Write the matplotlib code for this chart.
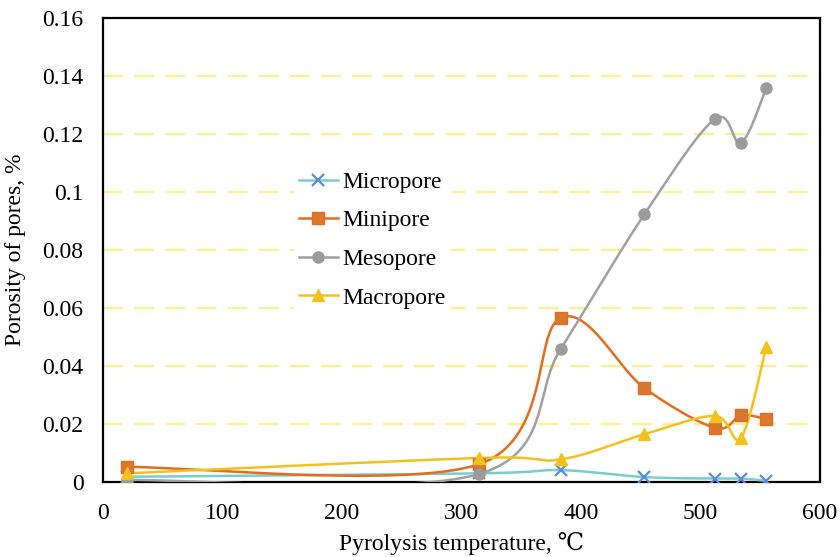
import numpy as np
import matplotlib
matplotlib.use("Agg")
import matplotlib.pyplot as plt
from matplotlib.lines import Line2D

plt.rcParams['font.family'] = ['Liberation Serif', 'DejaVu Serif']

# pyrolysis temperature (deg C) and porosity of each pore class
temps = [20, 315, 383, 453, 512, 534, 555]
micropore = [0.0018, 0.0030, 0.0041, 0.0017, 0.0012, 0.0012, 0.0004]
minipore = [0.0052, 0.0062, 0.0566, 0.0324, 0.0187, 0.0230, 0.0217]
mesopore = [0.0007, 0.0028, 0.0459, 0.0923, 0.1252, 0.1170, 0.1358]
macropore = [0.0030, 0.0083, 0.0078, 0.0165, 0.0228, 0.0153, 0.0465]

xticks = [0, 100, 200, 300, 400, 500, 600]
yticks = [0, 0.02, 0.04, 0.06, 0.08, 0.1, 0.12, 0.14, 0.16]


def smooth(x, y, n=40):
    # spreadsheet-style smoothed line: Catmull-Rom bezier through each point
    p = np.column_stack([x, y]).astype(float)
    # scale so the curve shape does not depend on axis units
    sx, sy = 600.0, 0.16
    p = p / [sx, sy]
    ext = np.vstack([p[0], p, p[-1]])
    out = []
    t = np.linspace(0, 1, n)[:, None]
    for i in range(len(p) - 1):
        p0, p1, p2, p3 = ext[i], ext[i + 1], ext[i + 2], ext[i + 3]
        c1 = p1 + (p2 - p0) / 6
        c2 = p2 - (p3 - p1) / 6
        seg = ((1 - t) ** 3) * p1 + 3 * ((1 - t) ** 2) * t * c1 + 3 * (1 - t) * t ** 2 * c2 + t ** 3 * p2
        out.append(seg if i == 0 else seg[1:])
    out = np.vstack(out) * [sx, sy]
    return out[:, 0], out[:, 1]


series = [
    ("Micropore", micropore, "#78CDD0", "x", "#5B8BD9", "#5B8BD9", 9),
    ("Minipore", minipore, "#E46C1E", "s", "#D9782F", "#E46C1E", 8),
    ("Mesopore", mesopore, "#A0A0A0", "o", "#9B9B9B", "#9B9B9B", 8),
    ("Macropore", macropore, "#F2C21C", "^", "#F2C21C", "#F2C21C", 9),
]

fig = plt.figure(figsize=(8.4, 5.57), dpi=100)
ax = fig.add_axes([0.1226, 0.1346, 0.8536, 0.8331])

handles = []
for name, vals, lc, mk, mfc, mec, ms in series:
    sx_, sy_ = smooth(temps, vals)
    ax.plot(sx_, sy_, color=lc, lw=1.8, zorder=3)
    ax.plot(temps, vals, ls='none', marker=mk, ms=ms, mfc=mfc, mec=mec,
            mew=1.6 if mk == 'x' else 1.0, zorder=4)
    handles.append(Line2D([], [], color=lc, lw=1.8, marker=mk, ms=ms,
                          mfc=mfc, mec=mec, mew=1.6 if mk == 'x' else 1.0, label=name))

for yv in yticks[1:-1]:
    ax.axhline(yv, color='#FFF08A', lw=1.6, dashes=(9, 5), zorder=1)

ax.set_xlim(0, 600)
ax.set_ylim(0, 0.16)
ax.set_xticks(xticks)
ax.set_yticks(yticks)
ax.set_yticklabels(['0', '0.02', '0.04', '0.06', '0.08', '0.1', '0.12', '0.14', '0.16'])
ax.tick_params(length=0, labelsize=17)
ax.tick_params(axis='y', pad=14)
ax.tick_params(axis='x', pad=15)
for s in ax.spines.values():
    s.set_linewidth(1.6)
    s.set_color('black')

ax.set_xlabel('Pyrolysis temperature, ℃', fontsize=17, labelpad=6)
ax.set_ylabel('Porosity of pores, %', fontsize=17, labelpad=12)

leg = ax.legend(handles=handles, loc='upper left', bbox_to_anchor=(0.25, 0.705),
                frameon=True, framealpha=1, edgecolor='none', facecolor='white',
                fontsize=17, labelspacing=0.72, handlelength=1.65, handletextpad=0.2,
                borderpad=0.2)
leg.set_zorder(2)

fig.savefig('out.png', dpi=100)
